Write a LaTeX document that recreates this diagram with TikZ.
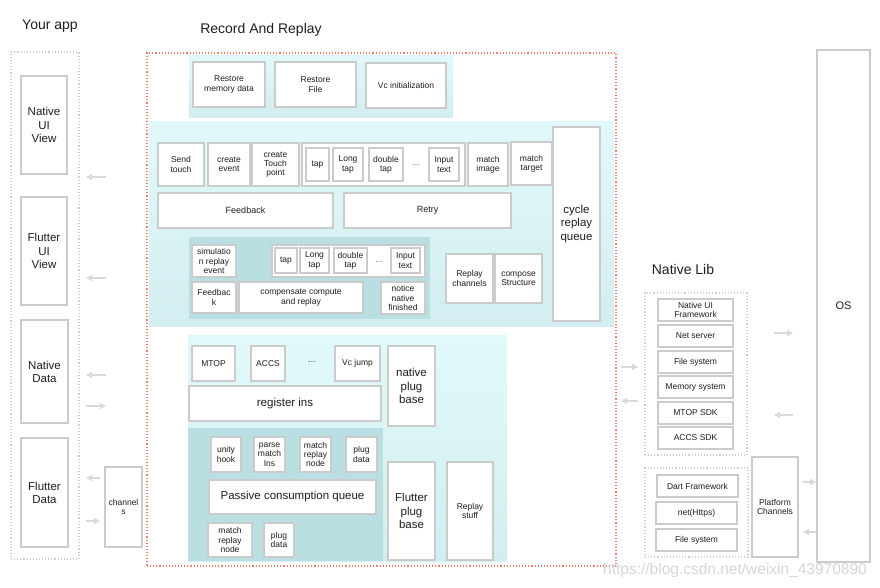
\documentclass[tikz,border=0pt]{standalone}
\usepackage{fontspec}
\setmainfont{Liberation Sans}
\usetikzlibrary{arrows.meta}
\definecolor{bord}{HTML}{CBCBCB}
\definecolor{arrc}{HTML}{D9D9D9}
\definecolor{redd}{HTML}{F27B6B}
\definecolor{dotg}{HTML}{CFCFCF}
\definecolor{cyA}{HTML}{E1F9FB}
\definecolor{cyB}{HTML}{D3EEF0}
\definecolor{tealD}{HTML}{B9DFE3}
\definecolor{txt}{HTML}{1E1E1E}
\definecolor{wmc}{HTML}{D6D6D6}
\newcommand\fsm{\fontsize{8.5}{9.3}\selectfont}
\newcommand\fsn{\fontsize{9}{10}\selectfont}
\newcommand\fsb{\fontsize{11.5}{13.2}\selectfont}
\newcommand\fst{\fontsize{14}{16}\selectfont}
\newcommand\mybox[7][]{\node[bx,#1,minimum width={(#5-#3)*1pt},minimum height={(#6-#4)*1pt}] (#2) at ({(#3+#5)/2},{(#4+#6)/2}) {#7};}
\begin{document}
\begin{tikzpicture}[x=1pt,y=-1pt,
  bx/.style={draw=bord,fill=white,line width=1.1pt,inner sep=0.5pt,align=center,text=txt,font=\fsm},
  bigt/.style={font=\fsb},
  midt/.style={font=\fsn},
  panel/.style={draw=none,top color=cyA,bottom color=cyB},
  dpanel/.style={draw=none,fill=tealD},
  gdot/.style={draw=dotg,fill=none,line width=1.1pt,dash pattern=on 1.1pt off 2pt},
  rdot/.style={draw=redd,fill=none,line width=1.1pt,dash pattern=on 1.1pt off 2pt},
  ttl/.style={font=\fst,text=txt,inner sep=0pt},
  dots/.style={font=\fsm,text=black!55,inner sep=0pt},
  arr/.style={draw=arrc,line width=1.5pt,-{Triangle[length=6pt,width=6pt]}},
  wm/.style={font=\fontsize{15.5}{17}\selectfont,text=wmc,inner sep=0pt,anchor=base}
]
\useasboundingbox (0,0) rectangle (880,587);

% titles
\node[ttl] (tyour) at (50,26) {Your app};
\node[ttl] (trec) at (261,30) {Record And Replay};
\node[ttl] (tnat) at (683,269) {Native Lib};

% panels of Record And Replay
\mybox[panel]{ptop}{189}{55}{453}{117}{}
\mybox[panel]{pmid}{149}{121}{614}{326}{}
\mybox[dpanel]{pinner}{189}{237}{430}{319}{}
\mybox[panel]{pbot}{188}{335}{507}{561}{}
\mybox[dpanel]{pbotin}{188}{428}{383}{561}{}

% containers
\mybox[gdot]{yourapp}{11}{52}{79}{559}{}
\mybox[rdot]{recbox}{147}{53}{616}{566}{}
\mybox[gdot]{nlbox}{645}{293}{747}{455}{}
\mybox[gdot]{flbox}{645}{468}{748}{557}{}

% Your app
\mybox[bigt]{nuiv}{21}{76}{67}{174}{Native\\UI\\View}
\mybox[bigt]{fuiv}{21}{197}{67}{305}{Flutter\\UI\\View}
\mybox[bigt]{ndata}{21}{320}{68}{423}{Native\\Data}
\mybox[bigt]{fdata}{21}{438}{68}{547}{Flutter\\Data}
\mybox{chan}{105}{467}{142}{547}{channel\\s}

% top row
\mybox{rmem}{193}{62}{265}{107}{Restore\\memory data}
\mybox{rfile}{275}{62}{356}{107}{Restore\\File}
\mybox{vcinit}{366}{63}{446}{108}{Vc initialization}

% middle panel
\mybox{send}{158}{143}{204}{186}{Send\\touch}
\mybox{cevent}{208}{143}{250}{186}{create\\event}
\mybox{ctouch}{252}{143}{299}{186}{create\\Touch\\point}
\mybox{grp1}{302}{143}{465}{186}{}
\mybox{tap1}{306}{148}{329}{181}{tap}
\mybox{ltap1}{333}{148}{363}{181}{Long\\tap}
\mybox{dtap1}{369}{148}{403}{181}{double\\tap}
\node[dots] (dots1) at (416,165) {...};
\mybox{itext1}{429}{148}{459}{181}{Input\\text}
\mybox{mimg}{468}{143}{508}{186}{match\\image}
\mybox{mtgt}{511}{142}{552}{185}{match\\target}
\mybox[bigt]{cycle}{553}{127}{600}{321}{cycle\\replay\\queue}
\mybox[midt]{feedback}{158}{193}{333}{228}{Feedback}
\mybox[midt]{retry}{344}{193}{511}{228}{Retry}

\mybox{sim}{192}{245}{236}{277}{simulatio\\n replay\\event}
\mybox{grp2}{272}{245}{425}{277}{}
\mybox{tap2}{275}{248}{297}{273}{tap}
\mybox{ltap2}{300}{248}{329}{273}{Long\\tap}
\mybox{dtap2}{334}{248}{367}{273}{double\\tap}
\node[dots] (dots2) at (379,262) {...};
\mybox{itext2}{391}{248}{420}{273}{Input\\text}
\mybox{fbk}{192}{282}{236}{313}{Feedbac\\k}
\mybox{comp}{239}{282}{363}{313}{compensate compute\\and replay}
\mybox{notice}{381}{282}{425}{314}{notice\\native\\finished}
\mybox{rchan}{446}{254}{493}{303}{Replay\\channels}
\mybox{compose}{495}{254}{542}{303}{compose\\Structure}

% bottom panel
\mybox{mtop}{192}{346}{235}{381}{MTOP}
\mybox{accs}{251}{346}{285}{381}{ACCS}
\node[dots,font=\fontsize{10}{11}\selectfont,text=black!70] (dots3) at (312,362) {...};
\mybox{vcjump}{335}{346}{380}{381}{Vc jump}
\mybox[bigt]{regins}{189}{386}{381}{421}{register ins}
\mybox[bigt]{npb}{388}{346}{435}{426}{native\\plug\\base}
\mybox{unity}{211}{437}{241}{472}{unity\\hook}
\mybox{parse}{254}{437}{285}{472}{parse\\match\\Ins}
\mybox{mrn1}{300}{437}{331}{472}{match\\replay\\node}
\mybox{pd1}{346}{437}{377}{472}{plug\\data}
\mybox[bigt]{pcq}{209}{480}{376}{514}{Passive consumption queue}
\mybox{mrn2}{208}{523}{252}{557}{match\\replay\\node}
\mybox{pd2}{264}{523}{294}{557}{plug\\data}
\mybox[bigt]{fpb}{388}{462}{435}{560}{Flutter\\plug\\base}
\mybox{rstuff}{447}{462}{493}{560}{Replay\\stuff}

% Native Lib
\mybox{nuif}{658}{299}{733}{321}{Native UI\\Framework}
\mybox{net}{658}{325}{733}{347}{Net server}
\mybox{fs1}{658}{351}{733}{373}{File system}
\mybox{mem}{658}{376}{733}{398}{Memory system}
\mybox{mtopsdk}{658}{402}{733}{424}{MTOP SDK}
\mybox{accssdk}{658}{427}{733}{449}{ACCS SDK}
\mybox{dart}{657}{475}{738}{497}{Dart Framework}
\mybox{nethttps}{656}{502}{737}{524}{net(Https)}
\mybox{fs2}{656}{529}{737}{551}{File system}
\mybox{platch}{752}{457}{798}{557}{Platform\\Channels}
\mybox[font=\fontsize{11}{12}\selectfont]{os}{817}{50}{870}{562}{OS}

% arrow end points
\coordinate (a1s) at (106,177); \coordinate (a1e) at (86,177);
\coordinate (a2s) at (106,278); \coordinate (a2e) at (86,278);
\coordinate (a3s) at (106,375); \coordinate (a3e) at (86,375);
\coordinate (a4s) at (86,406);  \coordinate (a4e) at (106,406);
\coordinate (a5s) at (100,478); \coordinate (a5e) at (86,478);
\coordinate (a6s) at (86,521);  \coordinate (a6e) at (100,521);
\coordinate (a7s) at (621,367); \coordinate (a7e) at (638,367);
\coordinate (a8s) at (638,401); \coordinate (a8e) at (621,401);
\coordinate (a9s) at (774,333); \coordinate (a9e) at (793,333);
\coordinate (a10s) at (793,415); \coordinate (a10e) at (774,415);
\coordinate (a11s) at (803,482); \coordinate (a11e) at (816,482);
\coordinate (a12s) at (816,532); \coordinate (a12e) at (803,532);
\foreach \i in {1,...,12} {\draw[arr] (a\i s) -- (a\i e);}

% watermark
\node[wm] (wmark) at (735,574) {https://blog.csdn.net/weixin\_43970890};
\end{tikzpicture}
\end{document}
